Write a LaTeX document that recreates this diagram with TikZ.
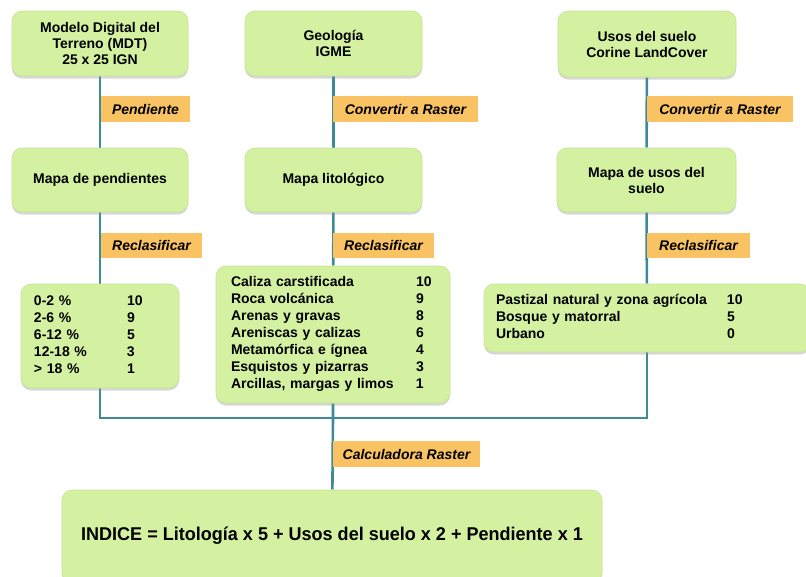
\documentclass[tikz,border=0pt]{standalone}
\usepackage{fontspec}
\setmainfont{Liberation Sans}
\usetikzlibrary{shadows,backgrounds}
\definecolor{boxgreen}{HTML}{D4F1A2}
\definecolor{boxedge}{HTML}{C4E492}
\definecolor{lab}{HTML}{F9C262}
\definecolor{teal}{HTML}{3F8A98}
\tikzset{
  gbox/.style={fill=boxgreen, draw=boxedge, line width=0.6pt, rounded corners=10pt,
    drop shadow={shadow xshift=0pt, shadow yshift=-2.5pt, opacity=0.35, fill=black!45},
    font=\fontsize{14}{16}\selectfont\bfseries, align=center, inner sep=0pt},
  tbox/.style={gbox, align=left, font=\fontsize{14}{17}\selectfont\bfseries},
  lbl/.style={fill=lab, inner sep=0pt, font=\fontsize{14}{16}\selectfont\bfseries\itshape},
  conn/.style={draw=teal, line width=2.6pt},
}
\begin{document}
\begin{tikzpicture}[x=1pt,y=-1pt]
\useasboundingbox (0,0) rectangle (806,576);
% top row
\node[gbox, minimum width=176pt, minimum height=65pt] (t1) at (100,43.5) {Modelo Digital del\\Terreno (MDT)\\25 x 25 IGN};
\node[gbox, minimum width=177pt, minimum height=65pt] (t2) at (333.5,43.5) {Geología\\IGME};
\node[gbox, minimum width=178pt, minimum height=66pt] (t3) at (647,44) {Usos del suelo\\Corine LandCover};
% second row
\node[gbox, minimum width=176pt, minimum height=64pt] (m1) at (100,180) {Mapa de pendientes};
\node[gbox, minimum width=177pt, minimum height=64pt] (m2) at (333.5,180) {Mapa litológico};
\node[gbox, minimum width=179pt, minimum height=64pt] (m3) at (646.5,180) {Mapa de usos del\\suelo};
% third row
\node[tbox, minimum width=158pt, minimum height=104pt, text width=132pt, inner xsep=13pt] (r1) at (100,336)
  {\begin{tabular}{@{}p{93pt}@{}l@{}}0-2 \% & 10\\2-6 \% & 9\\6-12 \% & 5\\12-18 \% & 3\\> 18 \% & 1\end{tabular}};
\node[tbox, minimum width=234pt, minimum height=137pt, text width=204pt, inner xsep=15pt] (r2) at (333,334.5)
  {\begin{tabular}{@{}p{185pt}@{}l@{}}Caliza carstificada & 10\\Roca volcánica & 9\\Arenas y gravas & 8\\Areniscas y calizas & 6\\Metamórfica e ígnea & 4\\Esquistos y pizarras & 3\\Arcillas, margas y limos & 1\end{tabular}};
\node[tbox, minimum width=326pt, minimum height=68pt, text width=302pt, inner xsep=12pt] (r3) at (647,318)
  {\begin{tabular}{@{}p{231pt}@{}l@{}}Pastizal natural y zona agrícola & 10\\Bosque y matorral & 5\\Urbano & 0\end{tabular}};
% final
\node[gbox, minimum width=540pt, minimum height=92pt] (fin) at (332,536)
  {\fontsize{18.5}{20}\selectfont\scalebox{0.975}[1]{INDICE = Litología x 5 + Usos del suelo x 2 + Pendiente x 1}};
\coordinate (J) at (333,418);
% connectors
\begin{scope}[on background layer]
\draw[conn] (t1) -- (m1);
\draw[conn] (t2) -- (m2);
\draw[conn] (t3) -- (m3);
\draw[conn] (m1) -- (r1);
\draw[conn] (m2) -- (r2);
\draw[conn] (m3) -- (r3);
\draw[conn] (r1.center) -- (r1.center |- J) -- (r3.center |- J) -- (r3.center);
\draw[conn] (r2) -- (J) -- (fin);
\end{scope}
% labels
\node[lbl, minimum width=89pt, minimum height=26pt] (l1) at (145.5,109) {Pendiente};
\node[lbl, minimum width=145pt, minimum height=26pt] (l2) at (405.5,109) {Convertir a Raster};
\node[lbl, minimum width=146pt, minimum height=26pt] (l3) at (720,109) {Convertir a Raster};
\node[lbl, minimum width=101pt, minimum height=25pt] (c1) at (151.5,245.5) {Reclasificar};
\node[lbl, minimum width=101pt, minimum height=25pt] (c2) at (383.5,245.5) {Reclasificar};
\node[lbl, minimum width=103pt, minimum height=25pt] (c3) at (698.5,245.5) {Reclasificar};
\node[lbl, minimum width=147pt, minimum height=26pt] (cr) at (406.5,454) {Calculadora Raster};
\end{tikzpicture}
\end{document}
